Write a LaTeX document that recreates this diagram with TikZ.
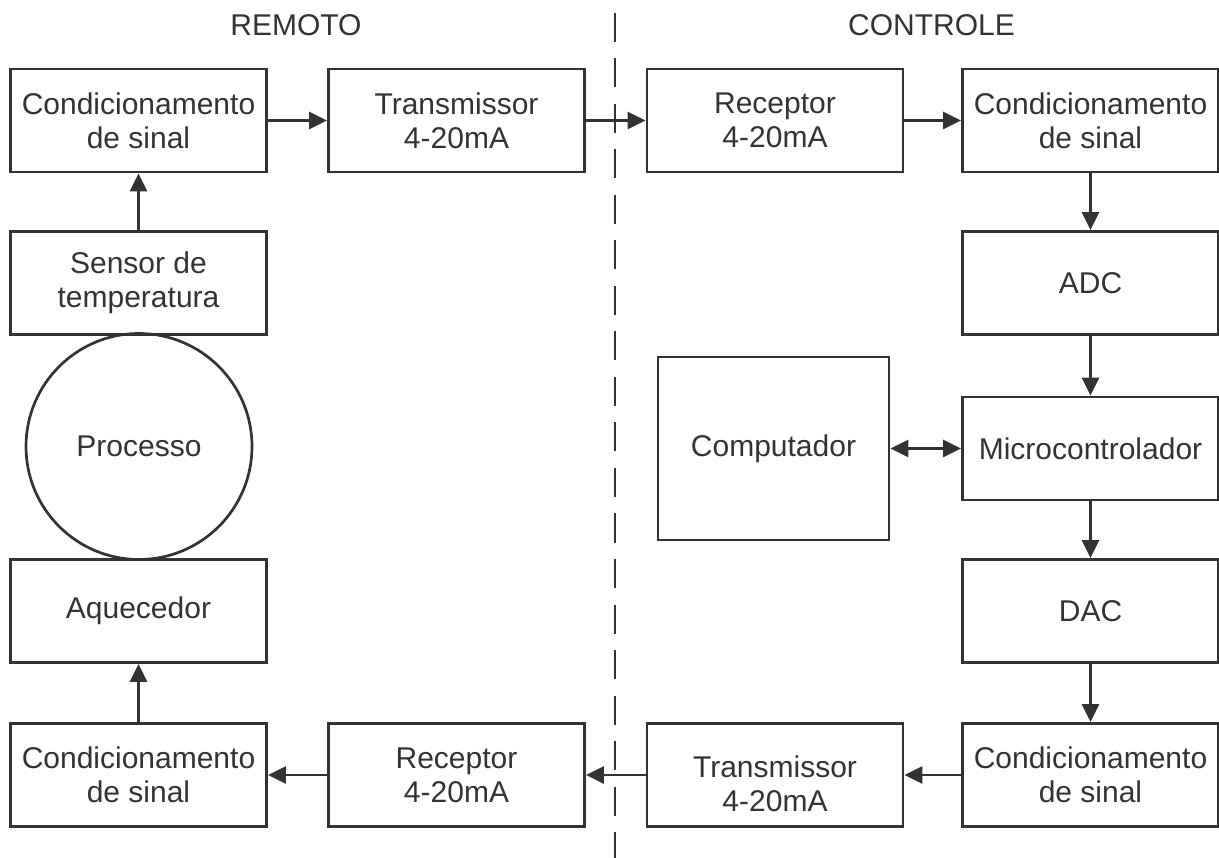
\documentclass[tikz,border=0pt]{standalone}
\usepackage{fontspec}
\setmainfont{Liberation Sans}
\usetikzlibrary{arrows.meta}
\definecolor{ink}{HTML}{333333}
\begin{document}
\begin{tikzpicture}[x=1pt,y=-1pt,
  blk/.style={draw=ink, line width=2.9pt, rectangle, minimum width=256pt,
    minimum height=103pt, inner sep=0pt, align=center, text=ink,
    font=\fontsize{30}{34}\selectfont},
  bigblk/.style={blk, minimum width=231pt, minimum height=183pt},
  proc/.style={draw=ink, line width=2.7pt, circle, minimum size=226pt,
    inner sep=0pt, text=ink, font=\fontsize{30}{34}\selectfont},
  side/.style={text=ink, inner sep=0pt, align=center,
    font=\fontsize{30}{34}\selectfont},
  flow/.style={draw=ink, line width=2.9pt, -{Triangle[length=18pt,width=17pt]}},
  both/.style={draw=ink, line width=2.9pt,
    {Triangle[length=18pt,width=17pt]}-{Triangle[length=18pt,width=17pt]}},
  divider/.style={draw=ink, line width=2.4pt, dash pattern=on 29pt off 16.5pt}]

\useasboundingbox (0,0) rectangle (1219,858);

% side titles
\node[side] (remoto) at (296,25) {REMOTO};
\node[side] (controle) at (931.5,25) {CONTROLE};

% boundary between the two sides
\coordinate (divtop) at (615,13);
\coordinate (divbot) at (615,858);
\path[divider] (divtop) -- (divbot);

% remote side
\node[blk] (condA) at (138.5,120.5) {Condicionamento\\de sinal};
\node[blk] (txA)   at (456.5,120.5) {Transmissor\\4-20mA};
\node[blk] (sensor) at (138.5,283) {Sensor de\\temperatura};
\node[proc] (processo) at (139,446.5) {Processo};
\node[blk] (heater) at (138.5,611) {Aquecedor};
\node[blk] (condD) at (138.5,775) {Condicionamento\\de sinal};
\node[blk] (rxB)   at (456.5,775) {Receptor\\4-20mA};

% control side
\node[blk] (rxA)   at (775,120.5) {Receptor\\4-20mA};
\node[blk] (condB) at (1090.5,120.5) {Condicionamento\\de sinal};
\node[blk] (adc)   at (1090.5,283) {ADC};
\node[blk] (mcu)   at (1090.5,448.5) {Microcontrolador};
\node[blk] (dac)   at (1090.5,611) {DAC};
\node[blk] (condC) at (1090.5,775) {Condicionamento\\de sinal};
\node[blk] (txB)   at (775,775) {};
\node[side, yshift=-9pt] (txBtext) at (txB.center) {Transmissor\\4-20mA};
\node[bigblk] (pc) at (773.5,448.5) {Computador};

% measurement path
\draw[flow] (sensor) -- (condA);
\draw[flow] (condA) -- (txA);
\draw[flow] (txA) -- (rxA);
\draw[flow] (rxA) -- (condB);
\draw[flow] (condB) -- (adc);
\draw[flow] (adc) -- (mcu);
\draw[both] (pc) -- (mcu);

% actuation path
\draw[flow] (mcu) -- (dac);
\draw[flow] (dac) -- (condC);
\draw[flow] (condC) -- (txB);
\draw[flow] (txB) -- (rxB);
\draw[flow] (rxB) -- (condD);
\draw[flow] (condD) -- (heater);
\end{tikzpicture}
\end{document}
